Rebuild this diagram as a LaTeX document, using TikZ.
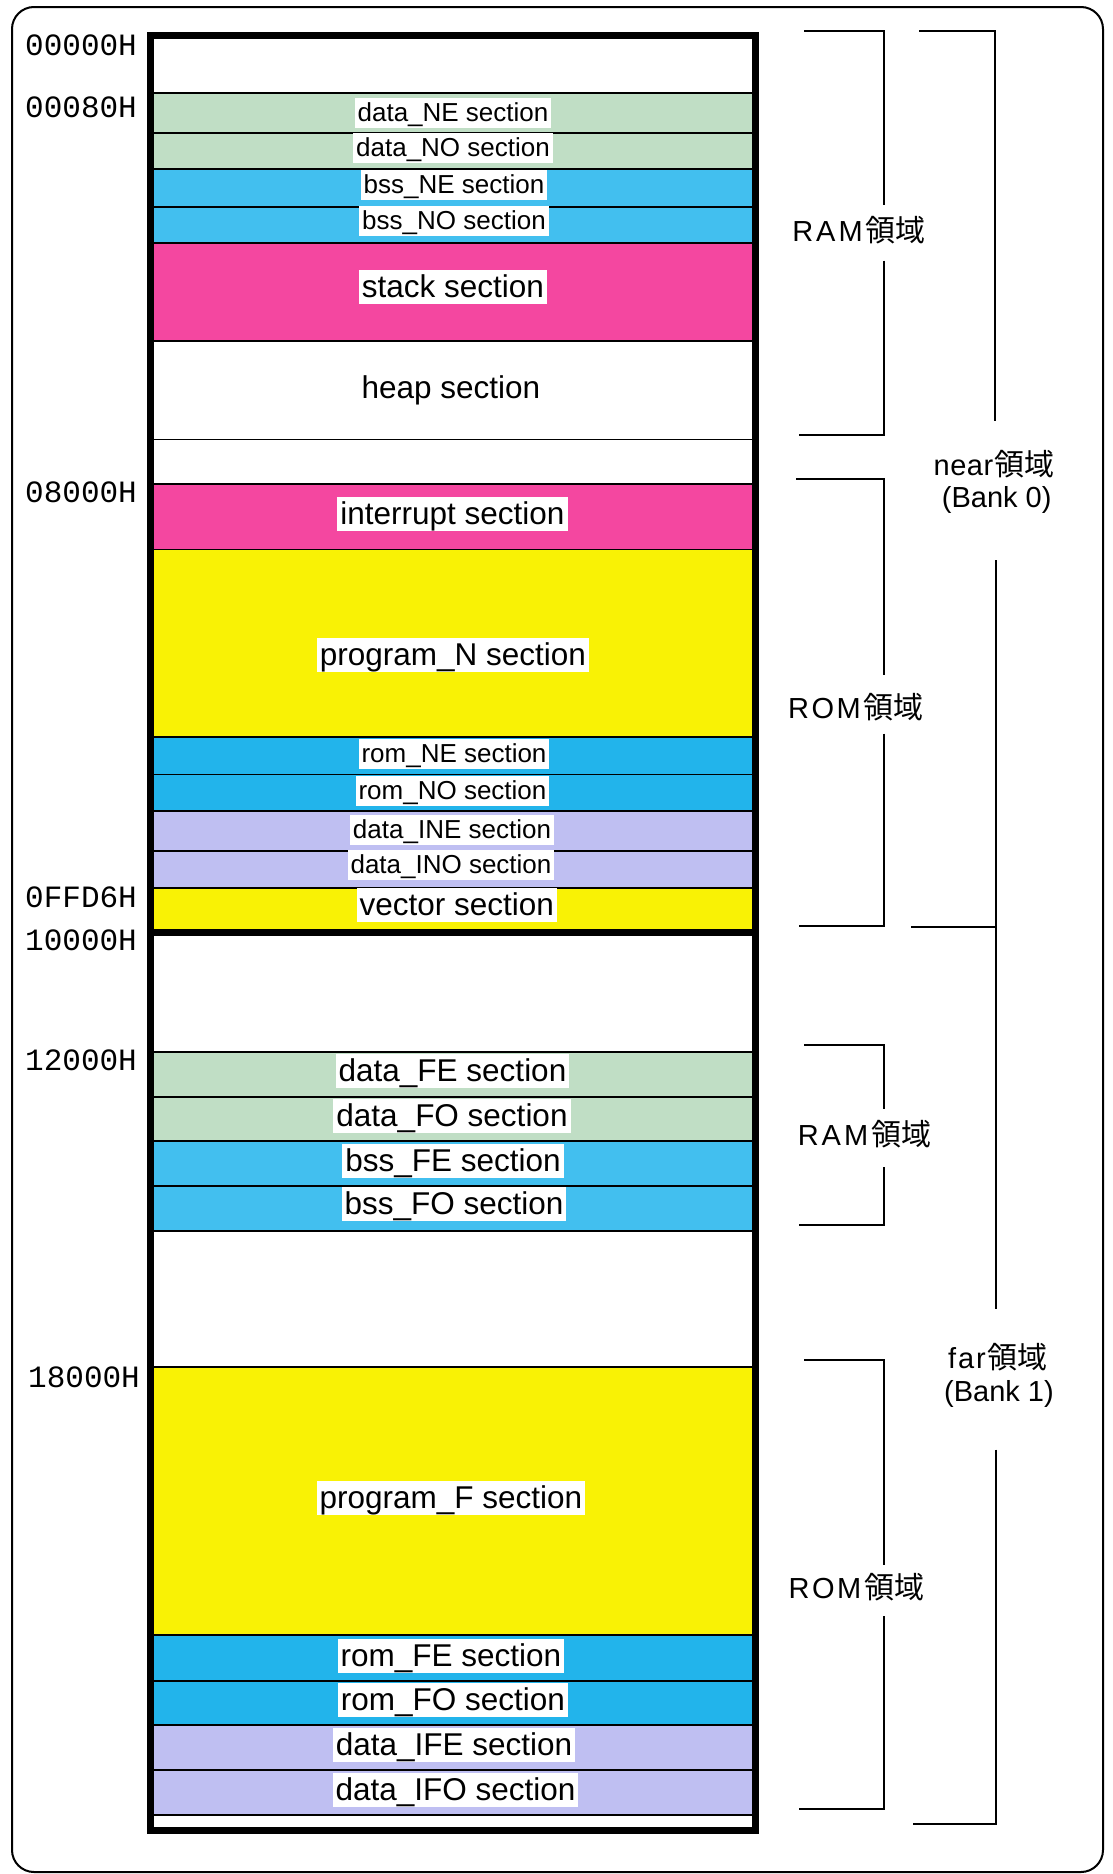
\documentclass[tikz,border=0pt]{standalone}
\usepackage{fontspec}
\setmainfont{Liberation Sans}
\newfontfamily\monof{Liberation Mono}
\newfontfamily\cjkf{Noto Sans CJK JP}
\definecolor{cgreen}{HTML}{C0DEC5}
\definecolor{cbss}{HTML}{42BFEF}
\definecolor{cpink}{HTML}{F447A0}
\definecolor{cyel}{HTML}{F9F205}
\definecolor{crom}{HTML}{22B4EB}
\definecolor{clav}{HTML}{BFBFF2}
\newcommand\ryk{{\cjkf\fontsize{30}{36}\selectfont 領域}}
\begin{document}
\begin{tikzpicture}[x=1pt,y=-1pt,
  sep/.style={line width=1.6pt},
  lbl/.style={fill=white, inner xsep=3pt, inner ysep=0pt},
  sm/.style={lbl, font=\fontsize{26}{31}\selectfont, text height=23.5pt, text depth=7pt},
  lg/.style={lbl, font=\fontsize{31.5}{38}\selectfont, text height=27pt, text depth=7pt},
  addr/.style={anchor=west, inner sep=0pt, font=\monof\fontsize{31}{36}\selectfont},
  brk/.style={line width=2pt},
  side/.style={inner sep=0pt, font=\fontsize{29}{35}\selectfont}
]
\useasboundingbox (0,0) rectangle (1113,1874);
\fill[white] (0,0) rectangle (1113,1874);
% outer frame
\draw[line width=2pt, rounded corners=22pt] (12,7) rectangle (1103,1872);
% fills
\foreach \a/\b/\c in {93/133/cgreen, 133/169/cgreen, 169/207/cbss, 207/243/cbss,
  243/341/cpink, 484/549.5/cpink, 549.5/737/cyel, 737/774.5/crom, 774.5/810.7/crom,
  810.7/851/clav, 851/888/clav, 888/932/cyel,
  1052/1097/cgreen, 1097/1141/cgreen, 1141/1186/cbss, 1186/1231/cbss,
  1367/1635/cyel, 1635/1681/crom, 1681/1725/crom, 1725/1770/clav, 1770/1815/clav}
  {\fill[\c] (150,\a) rectangle (755,\b);}
% separators
\foreach \y in {93,133,169,207,243,341,439.5,484,549.5,737,774.5,810.7,851,888,
  1052,1097,1141,1186,1231,1367,1635,1681,1725,1770,1815}
  {\draw[sep] (150,\y) -- (755,\y);}
% thick box
\draw[line width=7pt] (150.3,35) rectangle (755,1830);
\draw[line width=7pt] (150.3,932.5) -- (755,932.5);
% section labels
\node[sm] (dNE) at (453,113) {data\_NE section};
\node[sm] (dNO) at (453,148) {data\_NO section};
\node[sm] (bNE) at (454,185) {bss\_NE section};
\node[sm] (bNO) at (454,221) {bss\_NO section};
\node[lg] (stk) at (453,287) {stack section};
\node[lg] (hp) at (451,388) {heap section};
\node[lg] (intr) at (452.5,514) {interrupt section};
\node[lg] (pN) at (453,655) {program\_N section};
\node[sm] (rNE) at (454,754) {rom\_NE section};
\node[sm] (rNO) at (452.5,791) {rom\_NO section};
\node[sm] (dINE) at (452,830) {data\_INE section};
\node[sm] (dINO) at (451,865) {data\_INO section};
\node[lg] (vec) at (456.7,905) {vector section};
\node[lg] (dFE) at (452.5,1071) {data\_FE section};
\node[lg] (dFO) at (452,1116) {data\_FO section};
\node[lg] (bFE) at (453,1161) {bss\_FE section};
\node[lg] (bFO) at (454,1204) {bss\_FO section};
\node[lg] (pF) at (451,1498) {program\_F section};
\node[lg] (rFE) at (451,1656) {rom\_FE section};
\node[lg] (rFO) at (453,1700) {rom\_FO section};
\node[lg] (dIFE) at (454,1745) {data\_IFE section};
\node[lg] (dIFO) at (455.5,1790) {data\_IFO section};
% address labels
\node[addr] (a0) at (25,45) {00000H};
\node[addr] (a1) at (25,107) {00080H};
\node[addr] (a2) at (25,492) {08000H};
\node[addr] (a3) at (25,897) {0FFD6H};
\node[addr] (a4) at (25,940) {10000H};
\node[addr] (a5) at (25,1060) {12000H};
\node[addr] (a6) at (28,1377) {18000H};
% side labels
\node[side] (ram1) at (859,230) {R\kern3pt A\kern3pt M\kern3pt\ryk};
\node[side] (rom1) at (856,707) {R\kern2.5pt O\kern2.5pt M\kern3pt\ryk};
\node[side] (ram2) at (864.5,1134) {R\kern3pt A\kern3pt M\kern3pt\ryk};
\node[side] (rom2) at (856.5,1587) {R\kern2.5pt O\kern2.5pt M\kern3pt\ryk};
\node[side] (near) at (994,464) {n\kern0.5pt e\kern0.5pt a\kern0.5pt r\kern1pt\ryk};
\node[side] (bank0) at (996.7,500) {(Bank 0)};
\node[side] (far) at (998,1357) {f\kern2pt a\kern2pt r\kern2pt\ryk};
\node[side] (bank1) at (999,1393.5) {(Bank 1)};
% brackets
\draw[brk] (804,31) -- (884.3,31) -- (884.3,205);
\draw[brk] (884.3,260.7) -- (884.3,435) -- (798.7,435);
\draw[brk] (796,479.3) -- (884.3,479.3) -- (884.3,675);
\draw[brk] (884.3,733.5) -- (884.3,926.3) -- (798.7,926.3);
\draw[brk] (804,1045) -- (884.3,1045) -- (884.3,1108.6);
\draw[brk] (884.3,1167.4) -- (884.3,1225) -- (798.7,1225);
\draw[brk] (804,1360) -- (884.3,1360) -- (884.3,1564.7);
\draw[brk] (884.3,1616) -- (884.3,1809) -- (798.7,1809);
\draw[brk] (919.3,31) -- (994.5,31) -- (994.5,421.4);
\draw[brk] (995.5,560) -- (995.5,1309);
\draw[brk] (911,927) -- (995.5,927);
\draw[brk] (995.5,1449.7) -- (995.5,1824.3) -- (913,1824.3);
\end{tikzpicture}
\end{document}
